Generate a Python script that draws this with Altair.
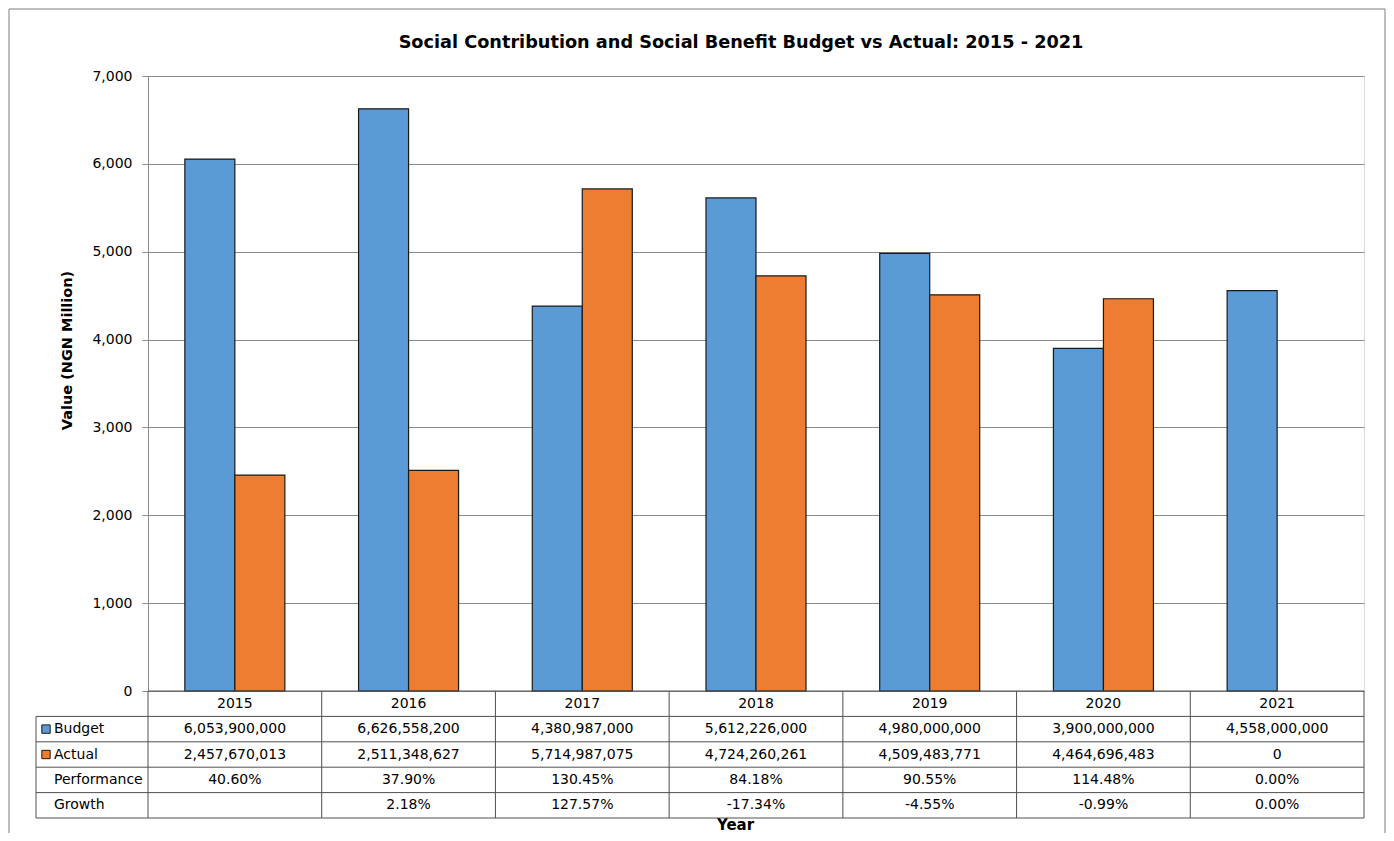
import altair as alt
import pandas as pd

# ---------------- data ----------------
years = ["2015", "2016", "2017", "2018", "2019", "2020", "2021"]
series = ["Budget", "Actual"]
budget = [6053900000, 6626558200, 4380987000, 5612226000, 4980000000, 3900000000, 4558000000]
actual = [2457670013, 2511348627, 5714987075, 4724260261, 4509483771, 4464696483, 0]
performance = ["40.60%", "37.90%", "130.45%", "84.18%", "90.55%", "114.48%", "0.00%"]
growth = ["", "2.18%", "127.57%", "-17.34%", "-4.55%", "-0.99%", "0.00%"]
row_labels = ["Budget", "Actual", "Performance", "Growth"]
y_ticks = [0, 1000, 2000, 3000, 4000, 5000, 6000, 7000]

colors = ["#5B9BD5", "#ED7D31"]
FONT = "DejaVu Sans"
W, H = 1216, 615
ROW_H = 25.4
GRID = "#8c8c8c"
LINE = "#505050"

# ---------------- frames ----------------
bars_df = pd.DataFrame(
    [{"year": y, "series": "Budget", "value": b / 1e6} for y, b in zip(years, budget)]
    + [{"year": y, "series": "Actual", "value": a / 1e6} for y, a in zip(years, actual)]
)

cells = []
for i, y in enumerate(years):
    cells.append({"year": y, "row": 0.5, "text": y})
    cells.append({"year": y, "row": 1.5, "text": f"{budget[i]:,}"})
    cells.append({"year": y, "row": 2.5, "text": f"{actual[i]:,}"})
    cells.append({"year": y, "row": 3.5, "text": performance[i]})
    cells.append({"year": y, "row": 4.5, "text": growth[i]})
cells_df = pd.DataFrame(cells)

labels_df = pd.DataFrame({"label": row_labels, "row": [1.5, 2.5, 3.5, 4.5]})
squares_df = pd.DataFrame({"series": series, "row": [1.5, 2.5]})
vlines_df = pd.DataFrame({"year": years, "y0": 0, "y1": 5})
last_df = pd.DataFrame({"year": [years[-1]], "y0": [0], "y1": [5]})
hlines_df = pd.DataFrame({"row": [1, 2, 3, 4, 5]})
axisline_df = pd.DataFrame({"row": [0]})
box_df = pd.DataFrame({"y0": [1], "y1": [5]})
one_df = pd.DataFrame({"a": [0]})

# ---------------- scales ----------------
x_scale = alt.Scale(domain=years, paddingInner=0, paddingOuter=0)
x_axis = alt.Axis(
    title="Year", labels=False, ticks=False, domain=False, grid=False,
    titleX=587, titleY=138, titleFont=FONT, titleFontSize=15, titleFontWeight="bold",
    titleBaseline="alphabetic", titleAlign="center", titleColor="black",
)
t_scale = alt.Scale(domain=[0, 5], range=[H, H + 5 * ROW_H], nice=False, zero=False)
color_scale = alt.Scale(domain=series, range=colors)


def xenc(band=0.5):
    return alt.X("year:N", scale=x_scale, axis=x_axis, bandPosition=band)


bars = alt.Chart(bars_df).transform_filter("datum.value > 0").mark_bar(stroke="#1a1a1a", strokeWidth=1.2).encode(
    x=alt.X("year:N", scale=x_scale, axis=x_axis),
    xOffset=alt.XOffset("series:N", scale=alt.Scale(domain=series, paddingInner=0, paddingOuter=0.737)),
    y=alt.Y(
        "value:Q",
        scale=alt.Scale(domain=[0, 7000], nice=False),
        axis=alt.Axis(
            values=y_ticks, format=",.0f", title="Value (NGN Million)",
            grid=True, gridColor=GRID, gridWidth=1,
            domainColor=GRID, tickColor=GRID, tickSize=6, labelPadding=10,
            labelFont=FONT, labelFontSize=14, labelColor="black",
            titleFont=FONT, titleFontSize=14.5, titleFontWeight="bold", titleColor="black",
            titleX=-81, titleY=274, titleBaseline="middle", titleAlign="center",
        ),
    ),
    color=alt.Color("series:N", scale=color_scale, legend=None),
)

table_text = alt.Chart(cells_df).mark_text(font=FONT, fontSize=14, color="black", baseline="middle").encode(
    x=xenc(),
    y=alt.Y("row:Q", scale=t_scale, axis=None),
    text="text:N",
)

label_text = alt.Chart(labels_df).mark_text(font=FONT, fontSize=14, color="black", baseline="middle", align="left").encode(
    x=alt.value(-94),
    y=alt.Y("row:Q", scale=t_scale, axis=None),
    text="label:N",
)

squares = alt.Chart(squares_df).mark_point(shape="square", filled=True, size=70, stroke="#1a1a1a", strokeWidth=1, opacity=1).encode(
    x=alt.value(-102),
    y=alt.Y("row:Q", scale=t_scale, axis=None),
    color=alt.Color("series:N", scale=color_scale, legend=None),
)

vlines = alt.Chart(vlines_df).mark_rule(color=LINE, strokeWidth=1).encode(
    x=xenc(0),
    y=alt.Y("y0:Q", scale=t_scale, axis=None),
    y2="y1:Q",
)
vlast = alt.Chart(last_df).mark_rule(color=LINE, strokeWidth=1).encode(
    x=xenc(1),
    y=alt.Y("y0:Q", scale=t_scale, axis=None),
    y2="y1:Q",
)
hlines = alt.Chart(hlines_df).mark_rule(color=LINE, strokeWidth=1).encode(
    x=alt.value(-112), x2=alt.value(W),
    y=alt.Y("row:Q", scale=t_scale, axis=None),
)
axisline = alt.Chart(axisline_df).mark_rule(color=LINE, strokeWidth=1).encode(
    x=alt.value(0), x2=alt.value(W),
    y=alt.Y("row:Q", scale=t_scale, axis=None),
)
box = alt.Chart(box_df).mark_rule(color=LINE, strokeWidth=1).encode(
    x=alt.value(-112),
    y=alt.Y("y0:Q", scale=t_scale, axis=None),
    y2="y1:Q",
)

# outer chart-area frame
frame_l = alt.Chart(one_df).mark_rule(color="#a8a8a8", strokeWidth=1.5).encode(
    x=alt.value(-139), y=alt.value(-67), y2=alt.value(760))
frame_t = alt.Chart(one_df).mark_rule(color="#a8a8a8", strokeWidth=1.5).encode(
    x=alt.value(-139), x2=alt.value(1237), y=alt.value(-67))
frame_r = alt.Chart(one_df).mark_rule(color="#a8a8a8", strokeWidth=1.5).encode(
    x=alt.value(1237), y=alt.value(-67), y2=alt.value(760))

chart = alt.layer(
    bars, table_text, label_text, squares, vlines, vlast, hlines, axisline, box,
    frame_l, frame_t, frame_r,
).resolve_scale(y="independent").properties(
    width=W, height=H,
    autosize=alt.AutoSizeParams(type="none"),
    padding={"left": 140, "top": 68, "right": 22, "bottom": 142},
    title=alt.TitleParams(
        "Social Contribution and Social Benefit Budget vs Actual: 2015 - 2021",
        font=FONT, fontSize=17.7, fontWeight="bold", color="black",
        anchor="middle", dx=-15, offset=-57, baseline="alphabetic",
    ),
).configure_view(stroke="#a6a6a6", strokeWidth=1).configure(background="white")

chart.save("out.html", embed_options={"renderer": "svg", "actions": False})
